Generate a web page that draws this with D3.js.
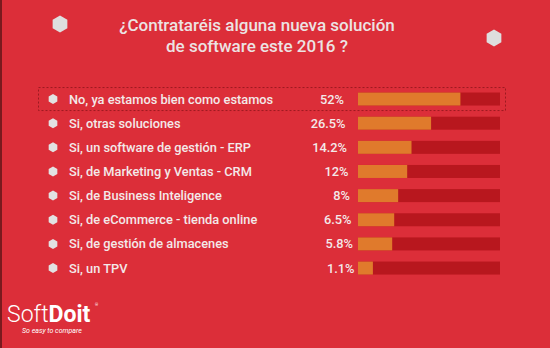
<!DOCTYPE html>
<html>
<head>
<meta charset="utf-8">
<script src="https://cdn.jsdelivr.net/npm/d3@7"></script>
<style>
  html, body { margin: 0; padding: 0; background: #dc2e39; }
  svg { display: block; font-family: Roboto, "Open Sans", sans-serif; }
</style>
</head>
<body>
<div id="chart"></div>
<script>
// chart data
var titleLines = ["¿Contrataréis alguna nueva solución", "de software este 2016 ?"];
var answers = [
  "No, ya estamos bien como estamos",
  "Si, otras soluciones",
  "Si, un software de gestión - ERP",
  "Si, de Marketing y Ventas - CRM",
  "Si, de Business Inteligence",
  "Si, de eCommerce - tienda online",
  "Si, de gestión de almacenes",
  "Si, un TPV"
];
var percents = [52, 26.5, 14.2, 12, 8, 6.5, 5.8, 1.1];
var percentLabels = ["52%", "26.5%", "14.2%", "12%", "8%", "6.5%", "5.8%", "1.1%"];

var width = 550, height = 348;
var bg = "#dc2e39", track = "#b8171e", fill = "#e07a2c", textCol = "#f3e9e9";

var svg = d3.select("#chart").append("svg")
  .attr("width", width)
  .attr("height", height);

svg.append("rect").attr("width", width).attr("height", height).attr("fill", bg);
// thin dark edge on the left
svg.append("rect").attr("width", 2).attr("height", height).attr("fill", "#7a1a1e");

// hexagon path helper
function hexPath(r) {
  var pts = d3.range(6).map(function(i) {
    var a = Math.PI / 3 * i + Math.PI / 6;
    return [r * Math.cos(a), r * Math.sin(a)];
  });
  return d3.line()(pts) + "Z";
}

// title
svg.selectAll("text.title")
  .data(titleLines)
  .enter().append("text")
  .attr("class", "title")
  .attr("x", 257)
  .attr("y", function(d, i) { return 31 + i * 21; })
  .attr("text-anchor", "middle")
  .attr("font-size", 17)
  .attr("font-weight", 500)
  .attr("fill", "#ece3e3")
  .text(function(d) { return d; });

// decorative hexagons near the title
svg.append("path").attr("d", hexPath(8.5)).attr("transform", "translate(60,24)").attr("fill", "#dedede");
svg.append("path").attr("d", hexPath(8.5)).attr("transform", "translate(494,38)").attr("fill", "#dedede");

// rows
var y = d3.scaleBand()
  .domain(answers)
  .range([92.4, 274.7])
  .paddingInner(0.45)
  .paddingOuter(0);

var barX0 = 358, barW = 142;
var x = d3.scaleSqrt().domain([0, 100]).range([0, barW]);

var rowC = function(d) { return y(d) + y.bandwidth() / 2; };

// dashed highlight around the first answer
svg.append("rect")
  .attr("x", 38.5)
  .attr("y", rowC(answers[0]) - 11.5)
  .attr("width", 467)
  .attr("height", 23)
  .attr("fill", "none")
  .attr("stroke", "#9c1a20")
  .attr("stroke-width", 1)
  .attr("stroke-dasharray", "2,2");

var rows = svg.selectAll("g.row")
  .data(answers)
  .enter().append("g")
  .attr("class", "row")
  .attr("transform", function(d) { return "translate(0," + rowC(d) + ")"; });

rows.append("path")
  .attr("d", hexPath(5))
  .attr("transform", "translate(53,0)")
  .attr("fill", "#e2e2e2");

rows.append("text")
  .attr("x", 69)
  .attr("dy", "0.35em")
  .attr("font-size", 12.8)
  .attr("font-weight", 500)
  .attr("fill", textCol)
  .text(function(d) { return d; });

rows.append("text")
  .attr("x", function(d, i) { return 344 + i * 1.5; })
  .attr("dy", "0.35em")
  .attr("text-anchor", "end")
  .attr("font-size", 12.8)
  .attr("font-weight", 500)
  .attr("fill", textCol)
  .text(function(d, i) { return percentLabels[i]; });

rows.append("rect")
  .attr("x", barX0)
  .attr("y", -6.5)
  .attr("width", barW)
  .attr("height", 13)
  .attr("fill", track);

rows.append("rect")
  .attr("x", barX0)
  .attr("y", -6.5)
  .attr("width", function(d, i) { return x(percents[i]); })
  .attr("height", 13)
  .attr("fill", fill);

// logo
var logo = svg.append("text")
  .attr("x", 7)
  .attr("y", 322)
  .attr("font-size", 23)
  .attr("fill", "#ffffff");
logo.append("tspan").attr("font-weight", 300).text("Soft");
logo.append("tspan").attr("font-weight", 700).text("Doit");
svg.append("text")
  .attr("x", 95).attr("y", 306)
  .attr("font-size", 4).attr("fill", "#ffffff")
  .text("®");
svg.append("text")
  .attr("x", 22).attr("y", 333)
  .attr("font-size", 7)
  .attr("font-style", "italic")
  .attr("fill", "#ffffff")
  .text("So easy to compare");
</script>
</body>
</html>
